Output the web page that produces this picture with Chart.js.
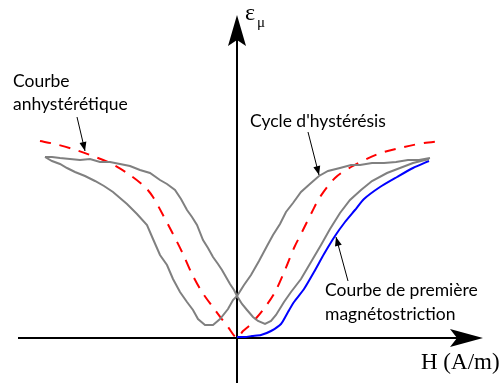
<!DOCTYPE html>
<html>
<head>
<meta charset="utf-8">
<script src="https://cdn.jsdelivr.net/npm/chart.js@4"></script>
<style>
  html, body { margin: 0; padding: 0; background: #ffffff; }
  #wrap { width: 502px; height: 383px; }
</style>
</head>
<body>
<div id="wrap"><canvas id="c" width="502" height="383"></canvas></div>
<script>
// ---- Data (arbitrary units: H on x, epsilon_mu on y, origin at axis crossing) ----
const anhystH   = [-197,-182,-164,-147,-127,-107,-92,-84,-74,-64,-54,-45,-35,-22,-9,0,6,13,26,38,48,57,66,75,83,98,114,141,167,187,204];
const anhystEps = [197,194,189,183,175,163,151,141,123,104,84,64,46,28,11,0,7,13,28,46,68,90,108,126,141,160,171,184,191,195,197];

// hysteresis loop, branch from negative to positive saturation
const loopUpH   = [-192,-185,-177,-167,-157,-147,-137,-127,-117,-107,-97,-87,-77,-70,-62,-56,-50,-45,-40,-34,-29,-24,-19,-15,-11,-7,-3,0,5,10,16,21,28,34,39,47,54,64,74,84,93,103,113,124,135,150,163,176,192];
const loopUpEps = [181,181,180,179,178,179,176,176,174,172,168,165,158,154,148,139,128,121,113,98,90,81,74,68,61,54,48,42,34,28,21,17,14,17,23,36,46,59,76,93,109,125,138,148,157,165,170,175,179];

// hysteresis loop, branch from positive to negative saturation
const loopDownH   = [193,182,171,159,147,135,123,114,103,91,82,74,64,56,49,43,36,30,22,14,7,0,-4,-9,-17,-24,-32,-39,-44,-50,-57,-64,-70,-77,-84,-90,-100,-110,-124,-133,-142,-152,-162,-170,-177,-185,-192];
const loopDownEps = [180,178,178,176,175,175,173,173,170,167,162,155,146,135,126,114,103,92,77,63,53,42,38,29,19,13,13,19,28,36,46,59,73,83,99,113,124,134,146,152,157,162,166,170,174,177,181];

// first magnetostriction curve
const firstH   = [0,8,15,24,34,44,51,57,67,77,87,98,108,118,127,143,160,176,192];
const firstEps = [1,1,2,3,7,14,26,36,49,66,84,102,116,128,139,151,161,170,177];

const labels = {
  anhyst: ["Courbe", "anhystérétique"],
  cycle: "Cycle d'hystérésis",
  first: ["Courbe de première", "magnétostriction"],
  xAxis: "H (A/m)",
  yAxis: ["ε", "μ"]
};

function pts(xs, ys) { return xs.map((x, i) => ({ x: x, y: ys[i] })); }

const overlay = {
  id: 'overlay',
  beforeDatasetsDraw(chart) {
    const ctx = chart.ctx, xs = chart.scales.x, ys = chart.scales.y;
    const ox = xs.getPixelForValue(0), oy = ys.getPixelForValue(0);
    ctx.save();
    ctx.strokeStyle = '#000'; ctx.fillStyle = '#000'; ctx.lineWidth = 2;
    // x axis
    ctx.beginPath(); ctx.moveTo(18, oy); ctx.lineTo(460, oy); ctx.stroke();
    ctx.beginPath();
    ctx.moveTo(483, oy); ctx.lineTo(450, oy - 9); ctx.lineTo(457, oy); ctx.lineTo(450, oy + 9); ctx.closePath(); ctx.fill();
    // y axis
    ctx.beginPath(); ctx.moveTo(ox, 383); ctx.lineTo(ox, 40); ctx.stroke();
    ctx.beginPath();
    ctx.moveTo(ox, 15); ctx.lineTo(ox - 9, 46); ctx.lineTo(ox, 40); ctx.lineTo(ox + 9, 46); ctx.closePath(); ctx.fill();
    ctx.restore();
  },
  afterDatasetsDraw(chart) {
    const ctx = chart.ctx;
    ctx.save();
    ctx.fillStyle = '#000'; ctx.strokeStyle = '#000';
    function arrow(x1, y1, x2, y2) {
      ctx.lineWidth = 1;
      ctx.beginPath(); ctx.moveTo(x1, y1); ctx.lineTo(x2, y2); ctx.stroke();
      const a = Math.atan2(y2 - y1, x2 - x1), L = 9, W = 3.5;
      const bx = x2 - L * Math.cos(a), by = y2 - L * Math.sin(a);
      ctx.beginPath();
      ctx.moveTo(x2, y2);
      ctx.lineTo(bx + W * Math.sin(a), by - W * Math.cos(a));
      ctx.lineTo(bx - W * Math.sin(a), by + W * Math.cos(a));
      ctx.closePath(); ctx.fill();
    }
    arrow(77, 117, 85, 151);
    arrow(308, 132, 319, 175);
    arrow(348, 281, 336, 237);

    ctx.font = '17.5px Lato';
    ctx.textBaseline = 'alphabetic';
    ctx.fillText(labels.anhyst[0], 13, 87);
    ctx.fillText(labels.anhyst[1], 13, 110);
    ctx.fillText(labels.cycle, 250, 127);
    ctx.fillText(labels.first[0], 325, 296);
    ctx.fillText(labels.first[1], 325, 320);

    ctx.font = '23px "Liberation Serif"';
    ctx.fillText(labels.xAxis, 421, 369);
    ctx.font = '24px "Liberation Serif"';
    ctx.fillText(labels.yAxis[0], 245, 20);
    ctx.font = '15px "Liberation Serif"';
    ctx.fillText(labels.yAxis[1], 257, 27);
    ctx.restore();
  }
};

new Chart(document.getElementById('c'), {
  type: 'scatter',
  data: {
    datasets: [
      { label: 'up', data: pts(loopUpH, loopUpEps), showLine: true, borderColor: '#808080', borderWidth: 2, pointRadius: 0, tension: 0 },
      { label: 'down', data: pts(loopDownH, loopDownEps), showLine: true, borderColor: '#808080', borderWidth: 2, pointRadius: 0, tension: 0 },
      { label: 'first', data: pts(firstH, firstEps), showLine: true, borderColor: '#0000ff', borderWidth: 2, pointRadius: 0, tension: 0.2 },
      { label: 'anhyst', data: pts(anhystH, anhystEps), showLine: true, borderColor: '#ff0000', borderWidth: 2, borderDash: [11, 9], pointRadius: 0, tension: 0.3 }
    ]
  },
  options: {
    responsive: false,
    animation: false,
    devicePixelRatio: 1,
    layout: { padding: 0 },
    plugins: { legend: { display: false }, tooltip: { enabled: false } },
    scales: {
      x: { type: 'linear', min: -237, max: 265, display: false },
      y: { type: 'linear', min: -45, max: 338, display: false }
    }
  },
  plugins: [overlay]
});
</script>
</body>
</html>
